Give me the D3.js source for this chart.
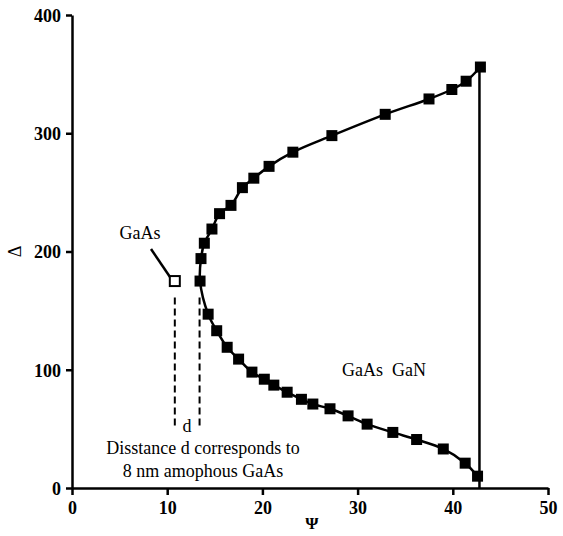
<!DOCTYPE html>
<html>
<head>
<meta charset="utf-8">
<script src="https://d3js.org/d3.v7.min.js"></script>
<style>
  body { margin: 0; background: #fff; }
  svg text { font-family: "Liberation Serif", "Times New Roman", serif; fill: #000; }
  .tick text { font-weight: bold; font-size: 18px; }
</style>
</head>
<body>
<svg width="563" height="536"></svg>
<script>
// ellipsometric trajectory (psi, delta in degrees)
const psi   = [42.6, 41.3, 39.0, 36.2, 33.7, 31.0, 29.0, 27.1, 25.3, 24.1, 22.6, 21.2, 20.2, 18.9, 17.5, 16.3, 15.2, 14.3, 13.45,
               13.55, 13.9, 14.7, 15.5, 16.7, 17.9, 19.1, 20.7, 23.2, 27.3, 32.9, 37.5, 39.9, 41.4, 42.9];
const delta = [10, 21, 33, 41, 47, 54, 61, 67, 71, 75, 81, 87, 92, 98, 109, 119, 133, 147, 175,
               194, 207, 219, 232, 239, 254, 262, 272, 284, 298, 316, 329, 337, 344, 356];
// bare GaAs point
const gaasPsi = [10.8], gaasDelta = [175];
const xTicks = [0, 10, 20, 30, 40, 50];
const yTicks = [0, 100, 200, 300, 400];

const margin = {top: 15, right: 15, bottom: 48, left: 72};
const W = 563, H = 536;

const svg = d3.select("svg");
const x = d3.scaleLinear().domain([0, 50]).range([margin.left, W - margin.right]);
const y = d3.scaleLinear().domain([0, 400]).range([H - margin.bottom, margin.top]);

// axes
const xAxis = svg.append("g")
    .attr("transform", `translate(0,${y(0)})`)
    .call(d3.axisBottom(x).tickValues(xTicks).tickSize(7).tickPadding(3).tickSizeOuter(0));
const yAxis = svg.append("g")
    .attr("transform", `translate(${x(0)},0)`)
    .call(d3.axisLeft(y).tickValues(yTicks).tickSize(6).tickPadding(5).tickSizeOuter(0));
[xAxis, yAxis].forEach(a => {
  a.attr("font-family", null);
  a.select(".domain").attr("stroke", "#000").attr("stroke-width", 2.5);
  a.selectAll(".tick line").attr("stroke", "#000").attr("stroke-width", 2.5);
});
xAxis.selectAll(".tick text").attr("dy", "0.9em");
yAxis.selectAll(".tick text").attr("dy", "0.36em");

// axis titles
svg.append("text").attr("x", 312).attr("y", 529).attr("text-anchor", "middle")
   .style("font-size", "17px").style("font-weight", "bold").text("Ψ");
svg.append("text").attr("transform", `translate(21,${y(200)}) rotate(-90)`)
   .attr("text-anchor", "middle").style("font-size", "18px").text("Δ");

// vertical line at the end of the trajectory
svg.append("line")
   .attr("x1", x(42.8)).attr("x2", x(42.8))
   .attr("y1", y(356)).attr("y2", y(0))
   .attr("stroke", "#000").attr("stroke-width", 2.5);

// curve
const pts = psi.map((p, i) => [p, delta[i]]);
const line = d3.line().x(d => x(d[0])).y(d => y(d[1])).curve(d3.curveCatmullRom.alpha(0.5));
svg.append("path").datum(pts)
   .attr("d", line).attr("fill", "none").attr("stroke", "#000").attr("stroke-width", 2.5);

// markers
const s = 11;
svg.append("g").selectAll("rect").data(pts).join("rect")
   .attr("x", d => x(d[0]) - s / 2).attr("y", d => y(d[1]) - s / 2)
   .attr("width", s).attr("height", s).attr("fill", "#000");

// dashed guides marking distance d
[gaasPsi[0], 13.4].forEach(p => {
  svg.append("line")
     .attr("x1", x(p)).attr("x2", x(p))
     .attr("y1", y(161)).attr("y2", y(51))
     .attr("stroke", "#000").attr("stroke-width", 2).attr("stroke-dasharray", "7,4");
});

// GaAs open square and leader
svg.append("line")
   .attr("x1", 151).attr("y1", 249).attr("x2", 170).attr("y2", 277)
   .attr("stroke", "#000").attr("stroke-width", 2.5);
svg.append("rect")
   .attr("x", x(gaasPsi[0]) - 5).attr("y", y(gaasDelta[0]) - 5)
   .attr("width", 10).attr("height", 10)
   .attr("fill", "#fff").attr("stroke", "#000").attr("stroke-width", 2);

// annotations
svg.append("text").attr("x", 140).attr("y", 239).attr("text-anchor", "middle")
   .style("font-size", "18px").text("GaAs");
svg.append("text").attr("x", 342).attr("y", 376).style("font-size", "18px")
   .style("white-space", "pre").text("GaAs  GaN");
svg.append("text").attr("x", 187).attr("y", 432).attr("text-anchor", "middle")
   .style("font-size", "18px").text("d");
svg.append("text").attr("x", 203).attr("y", 454).attr("text-anchor", "middle")
   .style("font-size", "18px").text("Disstance d corresponds to");
svg.append("text").attr("x", 203).attr("y", 477).attr("text-anchor", "middle")
   .style("font-size", "18px").text("8 nm amophous GaAs");
</script>
</body>
</html>
